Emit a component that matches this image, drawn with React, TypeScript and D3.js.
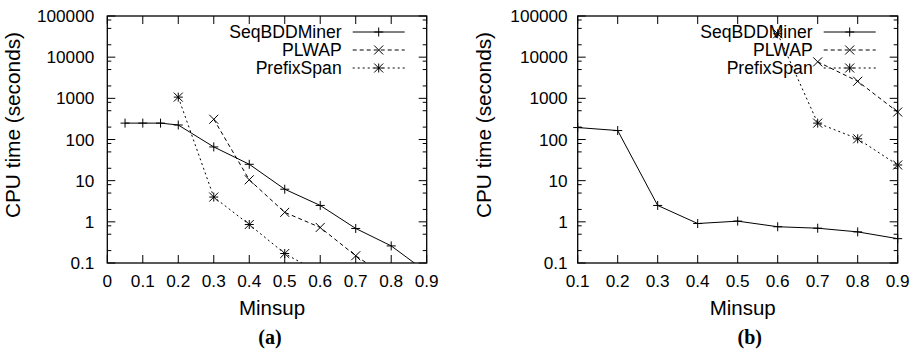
import React from "react";
import { scaleLinear, scaleLog, line } from "d3";

// values (CPU time in seconds, log scale)
const minsupA = [0.05, 0.1, 0.15, 0.2, 0.3, 0.4, 0.5, 0.6, 0.7, 0.8, 0.9];
const seqBddA = [250, 250, 250, 225, 66, 25, 6.2, 2.5, 0.69, 0.26, 0.06];
const plwapMinsupA = [0.3, 0.4, 0.5, 0.6, 0.7, 0.8];
const plwapA = [310, 10.5, 1.7, 0.73, 0.15, 0.04];
const prefixMinsupA = [0.2, 0.3, 0.4, 0.5, 0.6];
const prefixA = [1070, 4.0, 0.86, 0.17, 0.056];

const minsupB = [0.1, 0.2, 0.3, 0.4, 0.5, 0.6, 0.7, 0.8, 0.9];
const seqBddB = [195, 165, 2.5, 0.91, 1.04, 0.76, 0.7, 0.57, 0.39];
const plwapMinsupB = [0.7, 0.8, 0.9];
const plwapB = [7700, 2600, 465];
const prefixMinsupB = [0.6, 0.7, 0.8, 0.9];
const prefixB = [37000, 250, 104, 24];

const xTicksA = [0, 0.1, 0.2, 0.3, 0.4, 0.5, 0.6, 0.7, 0.8, 0.9];
const xTicksB = [0.1, 0.2, 0.3, 0.4, 0.5, 0.6, 0.7, 0.8, 0.9];
const yTicks = [0.1, 1, 10, 100, 1000, 10000, 100000];
const minorMultipliers = [2, 5, 8];
const seriesNames = ["SeqBDDMiner", "PLWAP", "PrefixSpan"];

const SANS = "'Liberation Sans', Arial, Helvetica, sans-serif";
const TOP = 16;
const BOTTOM = 263;

type Pt = { x: number; y: number };
const zip = (xs: number[], ys: number[]): Pt[] => xs.map((x, i) => ({ x, y: ys[i] }));

function Marker({ kind, x, y }: { kind: string; x: number; y: number }) {
  const s = 4.5;
  const plus = <path d={`M${x - s},${y}H${x + s}M${x},${y - s}V${y + s}`} />;
  const cross = <path d={`M${x - s},${y - s}L${x + s},${y + s}M${x - s},${y + s}L${x + s},${y - s}`} />;
  if (kind === "plus") return plus;
  if (kind === "cross") return cross;
  return (
    <g>
      {plus}
      {cross}
    </g>
  );
}

const styles = [
  { marker: "plus", dash: "none" },
  { marker: "cross", dash: "4,3" },
  { marker: "star", dash: "2,3" },
];

function Panel({ id, left, right, domain, xTicks, series, labelGap, yTitleX, xTitleShift, tag, tagShift }: any) {
  const x = scaleLinear().domain(domain).range([left, right]);
  const y = scaleLog().domain([0.1, 100000]).range([BOTTOM, TOP]);
  const gen = line<Pt>()
    .x((d) => x(d.x))
    .y((d) => y(d.y));
  const cx = (left + right) / 2;

  const minors: number[] = [];
  yTicks.slice(0, -1).forEach((t) => minorMultipliers.forEach((m) => minors.push(t * m)));

  const legendTextX = right - 85;
  const legendLine = [right - 74, right - 22];

  return (
    <g>
      <defs>
        <clipPath id={`clip-${id}`}>
          <rect x={left} y={TOP} width={right - left} height={BOTTOM - TOP} />
        </clipPath>
      </defs>

      {/* ticks */}
      <g stroke="#000" strokeWidth={1}>
        {yTicks.map((t) => (
          <g key={`y${t}`}>
            <line x1={left} x2={left + 8} y1={y(t)} y2={y(t)} />
            <line x1={right} x2={right - 8} y1={y(t)} y2={y(t)} />
          </g>
        ))}
        {minors.map((t) => (
          <g key={`m${t}`}>
            <line x1={left} x2={left + 4} y1={y(t)} y2={y(t)} />
            <line x1={right} x2={right - 4} y1={y(t)} y2={y(t)} />
          </g>
        ))}
        {xTicks.map((t: number) => (
          <g key={`x${t}`}>
            <line x1={x(t)} x2={x(t)} y1={BOTTOM} y2={BOTTOM - 8} />
            <line x1={x(t)} x2={x(t)} y1={TOP} y2={TOP + 8} />
          </g>
        ))}
      </g>

      {/* tick labels */}
      <g fontFamily={SANS} fontSize={17.2} fill="#000">
        {yTicks.map((t) => (
          <text key={`yl${t}`} x={left - labelGap} y={y(t) + 6} textAnchor="end">
            {String(t)}
          </text>
        ))}
        {xTicks.map((t: number) => (
          <text key={`xl${t}`} x={x(t)} y={287} textAnchor="middle">
            {String(t)}
          </text>
        ))}
      </g>

      {/* series */}
      <g clipPath={`url(#clip-${id})`} fill="none" stroke="#000" strokeWidth={1}>
        {series.map((s: Pt[], i: number) => (
          <path key={i} d={gen(s) || ""} strokeDasharray={styles[i].dash} />
        ))}
      </g>
      <g fill="none" stroke="#000" strokeWidth={1}>
        {series.map((s: Pt[], i: number) =>
          s
            .filter((d) => d.y >= 0.1 && d.x <= domain[1])
            .map((d, j) => <Marker key={`${i}-${j}`} kind={styles[i].marker} x={x(d.x)} y={y(d.y)} />)
        )}
      </g>

      {/* legend */}
      {seriesNames.map((name, i) => {
        const ly = 32 + i * 18;
        return (
          <g key={name}>
            <text x={legendTextX} y={ly + 6} textAnchor="end" fontFamily={SANS} fontSize={17.6}>
              {name}
            </text>
            <line
              x1={legendLine[0]}
              x2={legendLine[1]}
              y1={ly}
              y2={ly}
              stroke="#000"
              strokeWidth={1}
              strokeDasharray={styles[i].dash}
            />
            <g fill="none" stroke="#000" strokeWidth={1}>
              <Marker kind={styles[i].marker} x={(legendLine[0] + legendLine[1]) / 2} y={ly} />
            </g>
          </g>
        );
      })}

      {/* frame */}
      <rect x={left} y={TOP} width={right - left} height={BOTTOM - TOP} fill="none" stroke="#000" strokeWidth={1.3} />

      {/* titles */}
      <text
        transform={`translate(${yTitleX},125) rotate(-90)`}
        textAnchor="middle"
        fontFamily={SANS}
        fontSize={20.8}
      >
        CPU time (seconds)
      </text>
      <text x={cx + xTitleShift} y={315} textAnchor="middle" fontFamily={SANS} fontSize={20.5}>
        Minsup
      </text>
      <text
        x={cx + tagShift}
        y={344}
        textAnchor="middle"
        fontFamily="'Liberation Serif', 'Times New Roman', serif"
        fontWeight="bold"
        fontSize={20}
      >
        {tag}
      </text>
    </g>
  );
}

export default function App() {
  return (
    <svg
      width={915}
      height={351}
      style={{ position: "absolute", left: 0, top: 0, background: "#fff" }}
    >
      <rect width={915} height={351} fill="#fff" />
      <Panel
        id="a"
        left={107.3}
        right={426.7}
        domain={[0, 0.9]}
        xTicks={xTicksA}
        series={[zip(minsupA, seqBddA), zip(plwapMinsupA, plwapA), zip(prefixMinsupA, prefixA)]}
        labelGap={13}
        yTitleX={20}
        xTitleShift={5}
        tag="(a)"
        tagShift={3}
      />
      <Panel
        id="b"
        left={577.7}
        right={897.7}
        domain={[0.1, 0.9]}
        xTicks={xTicksB}
        series={[zip(minsupB, seqBddB), zip(plwapMinsupB, plwapB), zip(prefixMinsupB, prefixB)]}
        labelGap={10}
        yTitleX={491}
        xTitleShift={5}
        tag="(b)"
        tagShift={12}
      />
    </svg>
  );
}
